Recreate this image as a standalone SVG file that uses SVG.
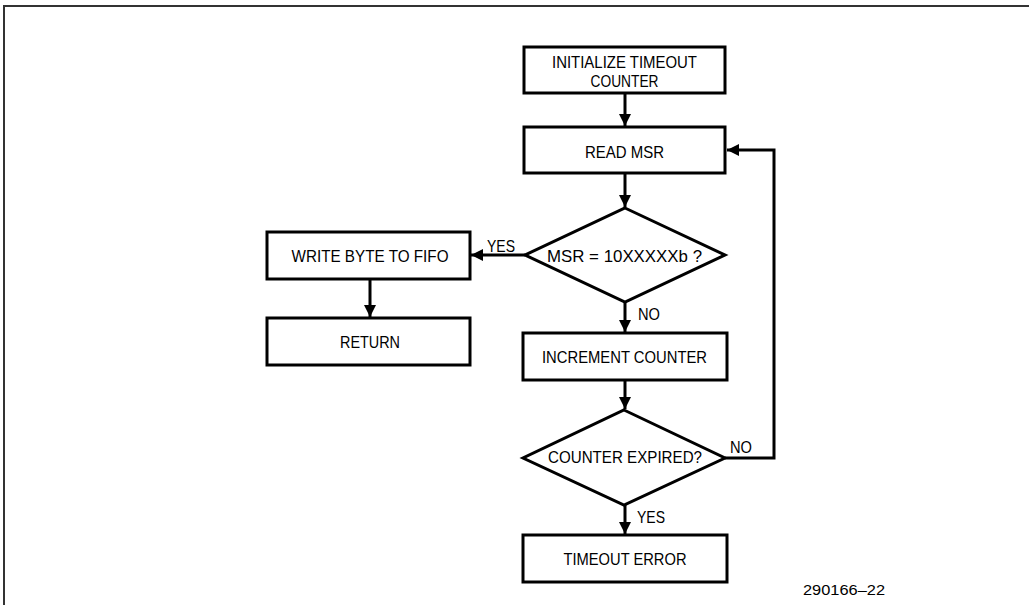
<svg xmlns="http://www.w3.org/2000/svg" width="1029" height="605" viewBox="0 0 1029 605">
<style>
.box{fill:#fff;stroke:#000;stroke-width:3;stroke-linejoin:miter}
.t{font-family:"Liberation Sans",Arial,sans-serif;font-size:17px;fill:#000;text-anchor:middle}
.l{font-family:"Liberation Sans",Arial,sans-serif;font-size:17px;fill:#000}
.c{fill:none;stroke:#000;stroke-width:3}
</style>
<defs>
<marker id="ah" markerWidth="12" markerHeight="12" viewBox="0 0 12 12" refX="12" refY="6" orient="auto" markerUnits="userSpaceOnUse">
<path d="M0,0 L12,6 L0,12 Z" fill="#000"/>
</marker>
</defs>
<rect width="1029" height="605" fill="#fff"/>
<g id="frame">
<path d="M4,605 L4,6 L1029,6" fill="none" stroke="#333" stroke-width="2"/>
</g>
<g id="connectors">
<line class="c" x1="625" y1="93" x2="625" y2="126" marker-end="url(#ah)"/>
<line class="c" x1="625" y1="173" x2="625" y2="207" marker-end="url(#ah)"/>
<line class="c" x1="525" y1="255" x2="471" y2="255" marker-end="url(#ah)"/>
<line class="c" x1="370" y1="279" x2="370" y2="317" marker-end="url(#ah)"/>
<line class="c" x1="625" y1="302" x2="625" y2="332" marker-end="url(#ah)"/>
<line class="c" x1="625" y1="380" x2="625" y2="409" marker-end="url(#ah)"/>
<line class="c" x1="625" y1="505" x2="625" y2="534" marker-end="url(#ah)"/>
<polyline class="c" points="725,458 774,458 774,150 727,150" marker-end="url(#ah)"/>
<text class="l" x="487" y="252" textLength="28" lengthAdjust="spacingAndGlyphs">YES</text>
<text class="l" x="638" y="320" textLength="22" lengthAdjust="spacingAndGlyphs">NO</text>
<text class="l" x="730" y="453" textLength="22" lengthAdjust="spacingAndGlyphs">NO</text>
<text class="l" x="637" y="523" textLength="28" lengthAdjust="spacingAndGlyphs">YES</text>
</g>
<g id="init">
<rect class="box" x="524" y="47" width="201" height="46"/>
<text class="t" x="624.5" y="68" textLength="145" lengthAdjust="spacingAndGlyphs">INITIALIZE TIMEOUT</text>
<text class="t" x="624.5" y="87" textLength="68" lengthAdjust="spacingAndGlyphs">COUNTER</text>
</g>
<g id="readmsr">
<rect class="box" x="524" y="127" width="201" height="46"/>
<text class="t" x="624.5" y="158" textLength="79" lengthAdjust="spacingAndGlyphs">READ MSR</text>
</g>
<g id="decision1">
<polygon class="box" points="625,208 725,255 625,302 525,255"/>
<text class="t" x="624.5" y="262" textLength="155" lengthAdjust="spacingAndGlyphs">MSR = 10XXXXXb ?</text>
</g>
<g id="writebyte">
<rect class="box" x="267" y="232" width="203" height="47"/>
<text class="t" x="370" y="262" textLength="157" lengthAdjust="spacingAndGlyphs">WRITE BYTE TO FIFO</text>
</g>
<g id="return">
<rect class="box" x="267" y="318" width="203" height="47"/>
<text class="t" x="370" y="348" textLength="60" lengthAdjust="spacingAndGlyphs">RETURN</text>
</g>
<g id="increment">
<rect class="box" x="523" y="333" width="204" height="47"/>
<text class="t" x="624.5" y="363" textLength="165" lengthAdjust="spacingAndGlyphs">INCREMENT COUNTER</text>
</g>
<g id="decision2">
<polygon class="box" points="624,410 725,458 624,505 523,458"/>
<text class="t" x="625" y="463" textLength="154" lengthAdjust="spacingAndGlyphs">COUNTER EXPIRED?</text>
</g>
<g id="timeout">
<rect class="box" x="523" y="535" width="204" height="47"/>
<text class="t" x="625" y="565" textLength="123" lengthAdjust="spacingAndGlyphs">TIMEOUT ERROR</text>
</g>
<text x="803" y="595" font-family="Liberation Sans,Arial,sans-serif" font-size="14" textLength="82" lengthAdjust="spacingAndGlyphs">290166–22</text>
</svg>
